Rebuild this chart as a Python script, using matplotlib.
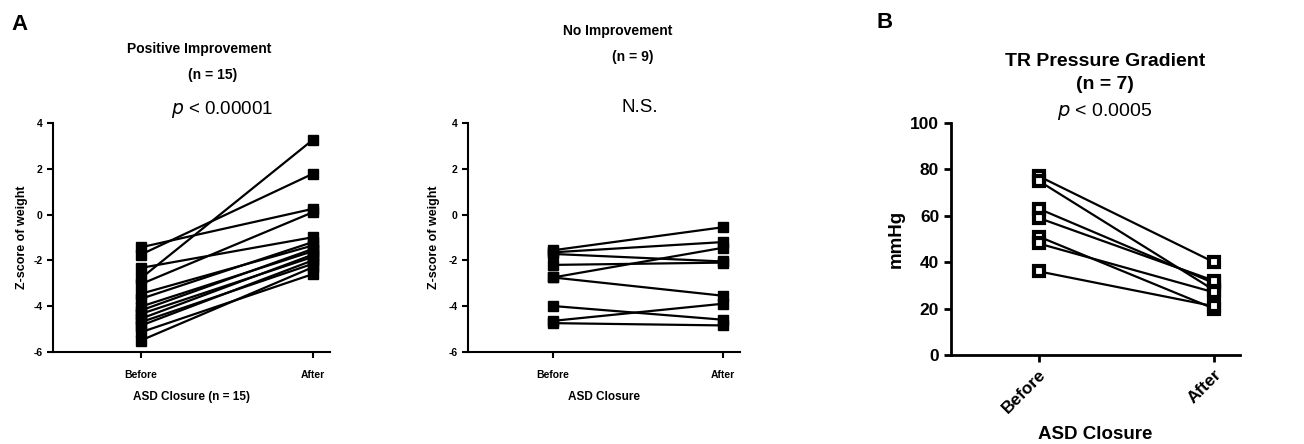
import numpy as np
import matplotlib
matplotlib.use("Agg")
from matplotlib import pyplot as plt

plt.rcParams["font.family"] = ["Liberation Sans", "DejaVu Sans"]
plt.rcParams["axes.unicode_minus"] = False

# Positive improvement group (n = 15), z-score of weight
pos_before = [-1.43, -1.75, -2.33, -2.79, -3.04, -3.46, -3.68, -4.02, -4.19, -4.34, -4.55, -4.70, -4.85, -5.14, -5.50]
pos_after = [0.25, 1.78, -0.99, 3.26, 0.10, -1.35, -1.20, -1.60, -1.50, -1.85, -1.75, -2.15, -2.00, -2.60, -2.30]

# No improvement group (n = 9)
no_before = [-1.56, -1.65, -1.72, -2.20, -2.75, -2.75, -4.00, -4.65, -4.75]
no_after = [-0.55, -1.20, -2.05, -2.10, -1.45, -3.55, -4.60, -3.90, -4.85]

# TR pressure gradient (n = 7), mmHg
tr_before = [77, 75, 63, 59, 51, 48, 36]
tr_after = [40, 28, 31, 32, 20, 27, 21]

x_labels = ["Before", "After"]

fig = plt.figure(figsize=(13.04, 4.44), dpi=100)


def style_axes(ax, lw=1.5):
    for side in ("top", "right"):
        ax.spines[side].set_visible(False)
    ax.spines["left"].set_linewidth(lw)
    ax.spines["bottom"].set_linewidth(lw)
    ax.tick_params(width=lw, direction="out")


def paired(ax, before, after, **kw):
    for b, a in zip(before, after):
        ax.plot([0, 1], [b, a], color="black", lw=1.6, marker="s", clip_on=False, zorder=3, **kw)


# Panel A, left
ax1 = fig.add_axes([0.0406, 0.2072, 0.2124, 0.5158])
paired(ax1, pos_before, pos_after, ms=7.5)
ax1.set_xlim(-0.51, 1.1)
ax1.set_ylim(-6, 4)
ax1.set_yticks(np.arange(-6, 5, 2))
ax1.set_xticks([0, 1])
ax1.set_xticklabels(x_labels)
style_axes(ax1)
ax1.tick_params(labelsize=7.5, length=4)
ax1.tick_params(axis="x", pad=9)
for lab in ax1.get_xticklabels() + ax1.get_yticklabels():
    lab.set_fontweight("bold")
ax1.set_ylabel("Z-score of weight", fontsize=9, fontweight="bold", labelpad=4)
ax1.set_xlabel("ASD Closure (n = 15)", fontsize=8.5, fontweight="bold", labelpad=8)

# Panel A, right
ax2 = fig.add_axes([0.3589, 0.2079, 0.2086, 0.5144])
paired(ax2, no_before, no_after, ms=7.5)
ax2.set_xlim(-0.5, 1.1)
ax2.set_ylim(-6, 4)
ax2.set_yticks(np.arange(-6, 5, 2))
ax2.set_xticks([0, 1])
ax2.set_xticklabels(x_labels)
style_axes(ax2)
ax2.tick_params(labelsize=7.5, length=4)
ax2.tick_params(axis="x", pad=9)
for lab in ax2.get_xticklabels() + ax2.get_yticklabels():
    lab.set_fontweight("bold")
ax2.set_ylabel("Z-score of weight", fontsize=9, fontweight="bold", labelpad=6)
ax2.set_xlabel("ASD Closure", fontsize=8.5, fontweight="bold", labelpad=8)

# Panel B
ax3 = fig.add_axes([0.7293, 0.2005, 0.2216, 0.5232])
paired(ax3, tr_before, tr_after, ms=7.5, mfc="white", mec="black", mew=3)
ax3.set_xlim(-0.5, 1.15)
ax3.set_ylim(0, 100)
ax3.set_yticks(np.arange(0, 101, 20))
ax3.set_xticks([0, 1])
ax3.set_xticklabels(x_labels, rotation=45, ha="right", rotation_mode="anchor")
style_axes(ax3, lw=2)
ax3.tick_params(labelsize=12.5, length=5)
for lab in ax3.get_xticklabels() + ax3.get_yticklabels():
    lab.set_fontweight("bold")
ax3.set_ylabel("mmHg", fontsize=13.5, fontweight="bold", labelpad=4)
ax3.set_xlabel("ASD Closure", fontsize=13.5, fontweight="bold", labelpad=7)

# Texts
fig.text(20 / 1304, 1 - 25 / 444, "A", fontsize=16, fontweight="bold", ha="center", va="center")
fig.text(885 / 1304, 1 - 22 / 444, "B", fontsize=16, fontweight="bold", ha="center", va="center")

fig.text(199 / 1304, 1 - 49 / 444, "Positive Improvement", fontsize=10, fontweight="bold", ha="center", va="center")
fig.text(213 / 1304, 1 - 75 / 444, "(n = 15)", fontsize=10, fontweight="bold", ha="center", va="center")
fig.text(222 / 1304, 1 - 110 / 444, r"$\it{p}$ < 0.00001", fontsize=13.5, ha="center", va="center")

fig.text(618 / 1304, 1 - 31 / 444, "No Improvement", fontsize=10, fontweight="bold", ha="center", va="center")
fig.text(633 / 1304, 1 - 57 / 444, "(n = 9)", fontsize=10, fontweight="bold", ha="center", va="center")
fig.text(640 / 1304, 1 - 107 / 444, "N.S.", fontsize=13.5, ha="center", va="center")

fig.text(1105 / 1304, 1 - 62 / 444, "TR Pressure Gradient", fontsize=14, fontweight="bold", ha="center", va="center")
fig.text(1105 / 1304, 1 - 84 / 444, "(n = 7)", fontsize=14, fontweight="bold", ha="center", va="center")
fig.text(1105 / 1304, 1 - 112 / 444, r"$\it{p}$ < 0.0005", fontsize=14, ha="center", va="center")

fig.savefig("out.png", dpi=100)
